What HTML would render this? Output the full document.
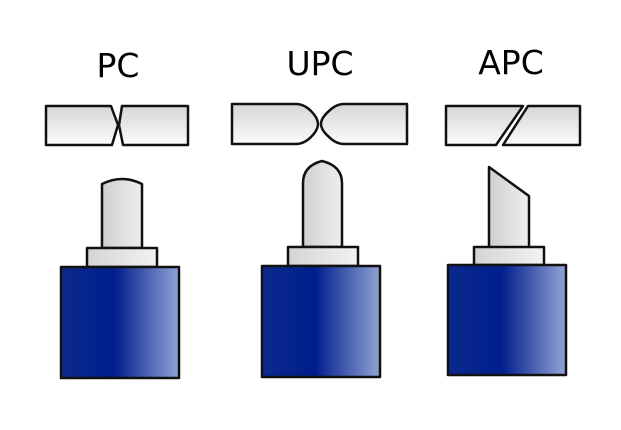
<!DOCTYPE html>
<html><head><style>body{margin:0;background:#fff}svg{display:block}</style></head><body>
<svg width="621" height="430" viewBox="0 0 621 430" xmlns="http://www.w3.org/2000/svg">
<defs>
<linearGradient id="bar" x1="0" y1="0" x2="0" y2="1"><stop offset="0" stop-color="#d6d6d6"/><stop offset="1" stop-color="#fbfbfb"/></linearGradient>
<linearGradient id="fer" x1="0" y1="0" x2="1" y2="0"><stop offset="0" stop-color="#cfcfcf"/><stop offset="1" stop-color="#efefef"/></linearGradient>
<linearGradient id="col" x1="0" y1="0" x2="1" y2="0"><stop offset="0" stop-color="#d4d4d4"/><stop offset="1" stop-color="#f2f2f2"/></linearGradient>
<linearGradient id="blue" x1="0" y1="0" x2="1" y2="0"><stop offset="0" stop-color="#0b2a8c"/><stop offset="0.45" stop-color="#001e8c"/><stop offset="1" stop-color="#91a3d6"/></linearGradient>
</defs>
<g font-family="DejaVu Sans, Liberation Sans, sans-serif" font-size="33" fill="#000" text-anchor="middle">
<text x="118" y="77">PC</text><text x="320" y="75">UPC</text><text x="511" y="74">APC</text>
</g>
<g stroke="#111" stroke-width="2.5" stroke-linejoin="round">
<!-- PC -->
<path d="M46 106H111L118 125L112 145H46Z" fill="url(#bar)"/>
<path d="M188 106H122L119 125L123 145H188Z" fill="url(#bar)"/>
<path d="M102 248V184Q122 174 142 184V248Z" fill="url(#fer)"/>
<rect x="87" y="248" width="70" height="19" fill="url(#col)"/>
<rect x="61" y="267" width="118" height="111" fill="url(#blue)"/>
<!-- UPC -->
<path d="M232 104H296Q304 104 311 111Q318 118 318 124Q318 130 311 137Q304 144 296 144H232Z" fill="url(#bar)"/>
<path d="M407 104H344Q336 104 329 111Q321 118 321 124Q321 130 329 137Q336 144 344 144H407Z" fill="url(#bar)"/>
<path d="M303 247V183Q303 166 322 161Q342 166 342 183V247Z" fill="url(#fer)"/>
<rect x="288" y="247" width="70" height="19" fill="url(#col)"/>
<rect x="262" y="266" width="118" height="111" fill="url(#blue)"/>
<!-- APC -->
<path d="M446 106H523L496 145H446Z" fill="url(#bar)"/>
<path d="M528 106H580V145H503Z" fill="url(#bar)"/>
<path d="M489 248V167L529 196V248Z" fill="url(#fer)"/>
<rect x="474" y="247" width="70" height="18" fill="url(#col)"/>
<rect x="448" y="265" width="118" height="110" fill="url(#blue)"/>
</g>
</svg>
</body></html>
